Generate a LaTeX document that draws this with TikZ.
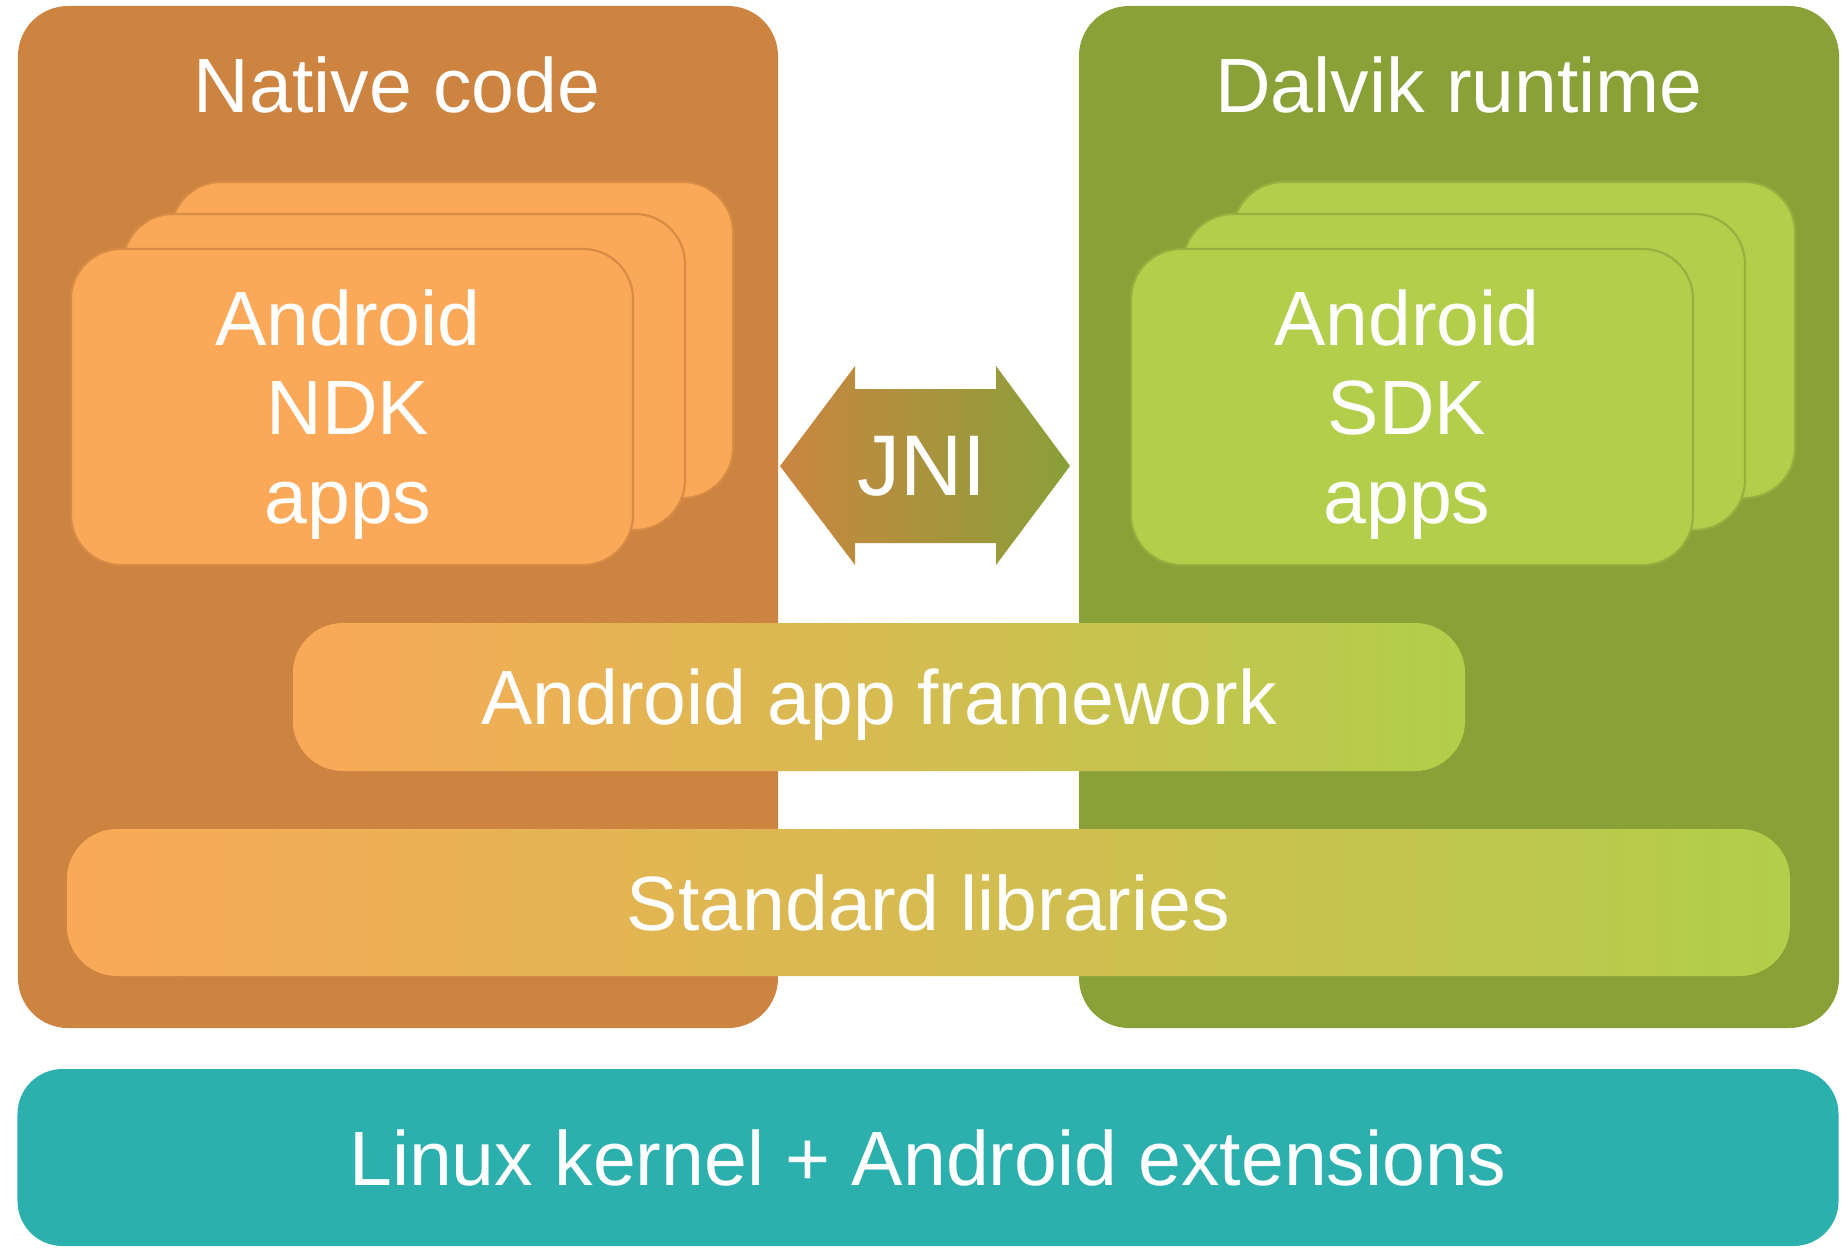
\documentclass[tikz,border=0pt]{standalone}
\usepackage{fontspec}
\setmainfont{Liberation Sans}
\usepackage{tikz}
\usetikzlibrary{shapes.geometric}

\definecolor{nativebg}{RGB}{206,132,65}
\definecolor{dalvikbg}{RGB}{138,161,56}
\definecolor{ndkcard}{RGB}{251,169,88}
\definecolor{ndkedge}{RGB}{214,140,70}
\definecolor{sdkcard}{RGB}{179,206,75}
\definecolor{sdkedge}{RGB}{148,176,62}
\definecolor{kernelbg}{RGB}{44,176,174}
\definecolor{jnileft}{RGB}{202,134,64}
\definecolor{jniright}{RGB}{137,160,57}
\definecolor{layerleft}{RGB}{250,169,88}
\definecolor{layerright}{RGB}{178,206,74}

\begin{document}
\begin{tikzpicture}[font=\fontsize{21.9pt}{25.3pt}\selectfont, text=white]
      \tikzstyle{panel} = [rectangle, rounded corners=0.5cm, minimum width=7.6cm, minimum height=10.22cm]
      \tikzstyle{card} = [rectangle, rounded corners=0.5cm, minimum width=5.62cm, minimum height=3.16cm, line width=0.6pt]
      \tikzstyle{layer} = [rectangle, rounded corners=0.5cm, text height=15.7pt, text depth=0pt]
      \tikzstyle{title} = [anchor=base]
      \useasboundingbox (0cm,0cm) rectangle (18.43cm,-12.47cm);
      % the two runtimes
      \node (native) [panel, fill=nativebg] at (3.98cm,-5.17cm) {};
      \node (dalvik) [panel, fill=dalvikbg] at (14.59cm,-5.17cm) {};
      \node (native-title) [title] at (3.97cm,-1.12cm) {Native code};
      \node (dalvik-title) [title] at (14.59cm,-1.12cm) {Dalvik runtime};
      % stacked apps
      \node (ndk-back) [card, fill=ndkcard, draw=ndkedge] at (4.52cm,-3.40cm) {};
      \node (ndk-mid) [card, fill=ndkcard, draw=ndkedge] at (4.04cm,-3.72cm) {};
      \node (ndk) [card, fill=ndkcard, draw=ndkedge] at (3.52cm,-4.07cm) {};
      \node (ndk-text) [align=center] at (3.48cm,-4.15cm) {Android\\NDK\\apps};
      \node (sdk-back) [card, fill=sdkcard, draw=sdkedge] at (15.14cm,-3.40cm) {};
      \node (sdk-mid) [card, fill=sdkcard, draw=sdkedge] at (14.64cm,-3.72cm) {};
      \node (sdk) [card, fill=sdkcard, draw=sdkedge] at (14.12cm,-4.07cm) {};
      \node (sdk-text) [align=center] at (14.07cm,-4.15cm) {Android\\SDK\\apps};
      % JNI
      \shade[left color=jnileft, right color=jniright] (7.80cm,-4.66cm) -- (8.55cm,-3.66cm) -- (8.55cm,-3.89cm) -- (9.96cm,-3.89cm) -- (9.96cm,-3.66cm) -- (10.70cm,-4.66cm) -- (9.96cm,-5.65cm) -- (9.96cm,-5.43cm) -- (8.55cm,-5.43cm) -- (8.55cm,-5.65cm) -- cycle;
      \node (jni) [font=\fontsize{24.5pt}{28pt}\selectfont, text height=17.5pt, text depth=0pt] at (9.22cm,-4.645cm) {JNI};
      % layers
      \node (framework) [layer, left color=layerleft, right color=layerright, minimum width=11.72cm, minimum height=1.48cm] at (8.79cm,-6.97cm) {Android app framework};
      \node (stdlib) [layer, left color=layerleft, right color=layerright, minimum width=17.23cm, minimum height=1.47cm] at (9.285cm,-9.025cm) {Standard libraries};
      \node (kernel) [layer, fill=kernelbg, rounded corners=0.45cm, minimum width=18.21cm, minimum height=1.77cm] at (9.28cm,-11.575cm) {Linux kernel + Android extensions};
  \end{tikzpicture}
\end{document}
